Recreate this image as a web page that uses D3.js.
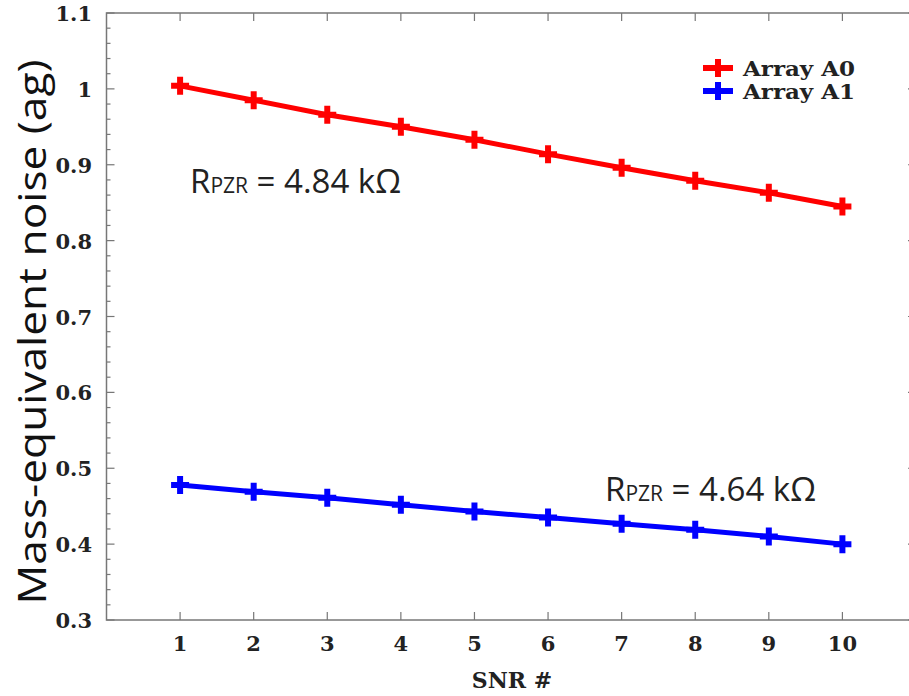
<!DOCTYPE html>
<html>
<head>
<meta charset="utf-8">
<script src="https://cdn.jsdelivr.net/npm/d3@7"></script>
<style>
body { margin: 0; background: #fff; }
</style>
</head>
<body>
<script>
var snr = [1, 2, 3, 4, 5, 6, 7, 8, 9, 10];
var arrayA0 = [1.004, 0.985, 0.966, 0.950, 0.933, 0.914, 0.896, 0.879, 0.863, 0.845];
var arrayA1 = [0.478, 0.469, 0.461, 0.452, 0.443, 0.435, 0.427, 0.419, 0.410, 0.400];
var yTicks = [0.3, 0.4, 0.5, 0.6, 0.7, 0.8, 0.9, 1, 1.1];
var seriesNames = ["Array A0", "Array A1"];
var seriesColors = ["#ff0000", "#0000ff"];

var svg = d3.select("body").append("svg")
    .attr("width", 909)
    .attr("height", 696);

var x = d3.scaleLinear().domain([0, 11]).range([106.5, 916]);
var y = d3.scaleLinear().domain([0.3, 1.1]).range([620, 13]);

var serif = "'DejaVu Serif', 'Liberation Serif', serif";
var frame = "#777";

// frame
svg.append("rect")
    .attr("x", x(0)).attr("y", y(1.1))
    .attr("width", x(11) - x(0)).attr("height", y(0.3) - y(1.1))
    .attr("fill", "none").attr("stroke", frame).attr("stroke-width", 1.5);

// x ticks bottom + top (inward)
svg.append("g").selectAll("line.xb").data(snr).enter().append("line")
    .attr("x1", d => x(d)).attr("x2", d => x(d))
    .attr("y1", y(0.3)).attr("y2", y(0.3) - 8)
    .attr("stroke", frame).attr("stroke-width", 1.2);
svg.append("g").selectAll("line.xt").data(snr).enter().append("line")
    .attr("x1", d => x(d)).attr("x2", d => x(d))
    .attr("y1", y(1.1)).attr("y2", y(1.1) + 8)
    .attr("stroke", frame).attr("stroke-width", 1.2);

// y ticks, left and right, major + minor
var yMinor = d3.range(0, 41).map(i => 0.3 + i * 0.02);
[x(0), x(11)].forEach(function (xe, side) {
    var dir = side === 0 ? 1 : -1;
    svg.append("g").selectAll("line").data(yMinor).enter().append("line")
        .attr("x1", xe)
        .attr("x2", (d, i) => xe + dir * (i % 5 === 0 ? 8 : 4))
        .attr("y1", d => y(d)).attr("y2", d => y(d))
        .attr("stroke", frame).attr("stroke-width", 1.2);
});

// tick labels
svg.append("g").selectAll("text").data(snr).enter().append("text")
    .attr("x", d => x(d)).attr("y", 651)
    .attr("text-anchor", "middle")
    .attr("font-family", serif).attr("font-weight", "bold").attr("font-size", 21)
    .attr("fill", "#222")
    .text(d => d);
svg.append("g").selectAll("text").data(yTicks).enter().append("text")
    .attr("x", 92).attr("y", d => y(d) + 8)
    .attr("text-anchor", "end")
    .attr("font-family", serif).attr("font-weight", "bold").attr("font-size", 21)
    .attr("fill", "#222")
    .text(d => d);

// axis titles
svg.append("text")
    .attr("x", 512).attr("y", 688)
    .attr("text-anchor", "middle")
    .attr("font-family", serif).attr("font-weight", "bold").attr("font-size", 22)
    .attr("fill", "#222")
    .text("SNR #");
svg.append("text")
    .attr("transform", "translate(46,332) rotate(-90)")
    .attr("text-anchor", "middle")
    .attr("font-family", "'Open Sans', sans-serif").attr("font-size", 38)
    .attr("textLength", 545).attr("lengthAdjust", "spacingAndGlyphs")
    .attr("fill", "#111")
    .text("Mass-equivalent noise (ag)");

// series
var series = [arrayA0, arrayA1];
var line = d3.line().x((d, i) => x(snr[i])).y(d => y(d));
series.forEach(function (vals, k) {
    svg.append("path").datum(vals)
        .attr("d", line)
        .attr("fill", "none").attr("stroke", seriesColors[k]).attr("stroke-width", 5);
    svg.append("g").selectAll("path").data(vals).enter().append("path")
        .attr("d", (d, i) => `M${x(snr[i]) - 9},${y(d)}h18M${x(snr[i])},${y(d) - 9}v18`)
        .attr("stroke", seriesColors[k]).attr("stroke-width", 6);
});

// legend
seriesNames.forEach(function (name, k) {
    var ly = 68 + k * 23;
    svg.append("path")
        .attr("d", `M703,${ly}h30M718,${ly - 9}v18`)
        .attr("stroke", seriesColors[k]).attr("stroke-width", 6);
    svg.append("text")
        .attr("x", 743).attr("y", ly + 8)
        .attr("font-family", serif).attr("font-weight", "bold").attr("font-size", 20)
        .attr("textLength", 112).attr("lengthAdjust", "spacingAndGlyphs")
        .attr("fill", "#222")
        .text(name);
});

// resistance annotations
var annots = [{ x: 190, y: 193, v: "4.84" }, { x: 605, y: 501, v: "4.64" }];
annots.forEach(function (a) {
    var t = svg.append("text")
        .attr("x", a.x).attr("y", a.y)
        .attr("font-family", "'Open Sans', sans-serif").attr("font-size", 33)
        .attr("fill", "#222");
    t.append("tspan").text("R");
    t.append("tspan").attr("font-size", 21).text("PZR");
    t.append("tspan").text(" = " + a.v + " k\u03A9");
});
</script>
</body>
</html>
